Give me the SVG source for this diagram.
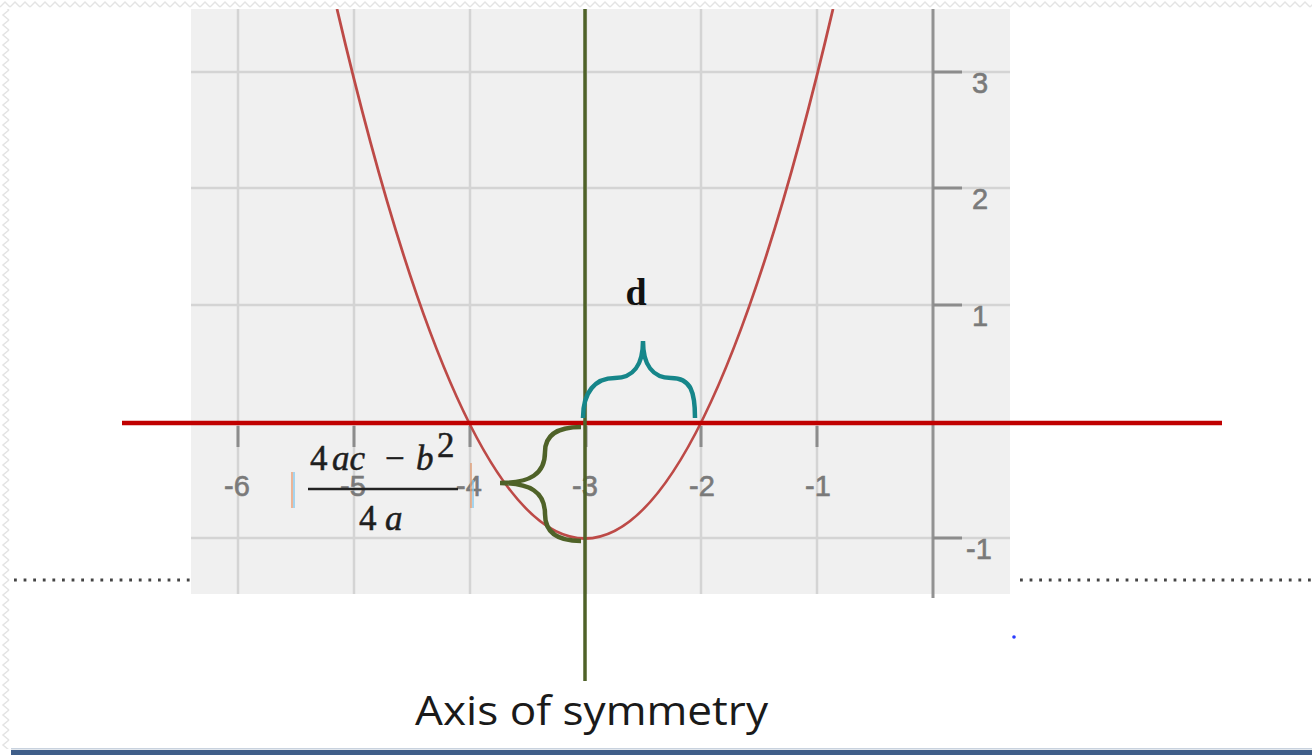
<svg xmlns="http://www.w3.org/2000/svg" width="1312" height="755" viewBox="0 0 1312 755">
<defs>
<pattern id="zzTop" x="0" y="0" width="10" height="9" patternUnits="userSpaceOnUse">
<path d="M0,7 L5,2 L10,7" fill="none" stroke="#e4e4e4" stroke-width="1.5"/>
</pattern>
<pattern id="zzLeft" x="0" y="0" width="11" height="10" patternUnits="userSpaceOnUse">
<path d="M9,0 L3,5 L9,10" fill="none" stroke="#e4e4e4" stroke-width="1.5"/>
</pattern>
<clipPath id="plotClip"><rect x="191" y="9" width="819" height="585"/></clipPath>
</defs>
<style>
.grid{stroke:#d4d4d4;stroke-width:2.5;fill:none}
.axis{stroke:#929292;stroke-width:3;fill:none}
.tick{stroke:#8c8c8c;stroke-width:3;fill:none}
.lbl{font-family:"Liberation Sans",Arial,sans-serif;font-size:29px;fill:#7a7a7a;stroke:#7a7a7a;stroke-width:0.6}
.fx{font-family:"Liberation Serif","Times New Roman",serif;font-size:35px;fill:#1e1e1e;stroke:#1e1e1e;stroke-width:0.5}
.it{font-style:italic}
.dots{stroke:#444;stroke-width:2.8;stroke-dasharray:2.8 6.8;fill:none}
</style>
<rect width="1312" height="755" fill="#ffffff"/>
<rect x="0" y="0" width="1312" height="9" fill="url(#zzTop)"/>
<rect x="0" y="9" width="11" height="740" fill="url(#zzLeft)"/>

<g id="plot">
<rect x="191" y="9" width="819" height="585" fill="#f0f0f0"/>
<g id="grid">
<line class="grid" x1="238" y1="9" x2="238" y2="594"/>
<line class="grid" x1="354" y1="9" x2="354" y2="594"/>
<line class="grid" x1="470" y1="9" x2="470" y2="594"/>
<line class="grid" x1="586" y1="9" x2="586" y2="594"/>
<line class="grid" x1="701" y1="9" x2="701" y2="594"/>
<line class="grid" x1="817" y1="9" x2="817" y2="594"/>
<line class="grid" x1="191" y1="72" x2="1010" y2="72"/>
<line class="grid" x1="191" y1="188" x2="1010" y2="188"/>
<line class="grid" x1="191" y1="305" x2="1010" y2="305"/>
<line class="grid" x1="191" y1="538" x2="1010" y2="538"/>
</g>
<line class="axis" x1="933" y1="9" x2="933" y2="598"/>
<g id="ticks">
<line class="tick" x1="238" y1="426" x2="238" y2="447"/>
<line class="tick" x1="354" y1="426" x2="354" y2="447"/>
<line class="tick" x1="470" y1="426" x2="470" y2="447"/>
<line class="tick" x1="586" y1="426" x2="586" y2="447"/>
<line class="tick" x1="701" y1="426" x2="701" y2="447"/>
<line class="tick" x1="817" y1="426" x2="817" y2="447"/>
<line class="tick" x1="933" y1="72" x2="962" y2="72"/>
<line class="tick" x1="933" y1="188" x2="962" y2="188"/>
<line class="tick" x1="933" y1="305" x2="962" y2="305"/>
<line class="tick" x1="933" y1="538" x2="962" y2="538"/>
</g>
<g id="labels">
<text class="lbl" x="237" y="496" text-anchor="middle">-6</text>
<text class="lbl" x="353" y="496" text-anchor="middle">-5</text>
<text class="lbl" x="469" y="496" text-anchor="middle">-4</text>
<text class="lbl" x="585" y="496" text-anchor="middle">-3</text>
<text class="lbl" x="702" y="496" text-anchor="middle">-2</text>
<text class="lbl" x="818" y="496" text-anchor="middle">-1</text>
<text class="lbl" x="972" y="93">3</text>
<text class="lbl" x="972" y="209">2</text>
<text class="lbl" x="972" y="326">1</text>
<text class="lbl" x="966" y="559">-1</text>
</g>
<path id="parabola" clip-path="url(#plotClip)" d="M337,9 Q585,1068 833,9" fill="none" stroke="#bd4a47" stroke-width="2.8"/>
</g>

<g id="connectors">
<line id="x-line" x1="122" y1="423" x2="1222" y2="423" stroke="#c00000" stroke-width="4.5"/>
<line id="axis-of-symmetry" x1="585" y1="9" x2="585" y2="681" stroke="#4f6228" stroke-width="3.5"/>
<path id="brace-d" d="M583,418 C583,392 595,378 615,378 C633,378 643,365 643,341 C643,365 653,378 671,378 C691,378 695,392 695,418" fill="none" stroke="#16868a" stroke-width="4.5"/>
<path id="brace-k" d="M581,427 C560,427 545,433 545,452 C545,474 530,483 500,483 C530,483 545,492 545,514 C545,534 560,541 581,541" fill="none" stroke="#4f6228" stroke-width="4.5"/>
<line class="dots" x1="14" y1="580" x2="190" y2="580"/>
<line class="dots" x1="1020" y1="580" x2="1312" y2="580"/>
</g>

<g id="label-d">
<text x="636" y="305" text-anchor="middle" font-family="Liberation Serif,'Times New Roman',serif" font-weight="bold" font-size="38" fill="#111">d</text>
</g>

<g id="formula">
<line x1="292" y1="472" x2="292" y2="508" stroke="#eba27a" stroke-width="1.5"/>
<line x1="294" y1="472" x2="294" y2="508" stroke="#8ccbee" stroke-width="1.5"/>
<line x1="471" y1="463" x2="471" y2="508" stroke="#e0a07a" stroke-width="1.5"/>
<line x1="473" y1="480" x2="473" y2="508" stroke="#8ccbee" stroke-width="1.5"/>
<text class="fx" x="310" y="470">4</text>
<text class="fx it" x="332" y="470">ac</text>
<text class="fx" x="385" y="470">−</text>
<text class="fx it" x="416" y="470">b</text>
<text class="fx" x="437" y="457" font-size="21">2</text>
<line x1="308" y1="489" x2="458" y2="489" stroke="#222" stroke-width="2.5"/>
<text class="fx" x="359" y="530">4</text>
<text class="fx it" x="385" y="530">a</text>
</g>

<circle cx="1014" cy="637" r="1.8" fill="#2a3cff"/>

<g id="caption">
<text x="415" y="725" font-family="'Open Sans','Liberation Sans',sans-serif" font-size="40" fill="#1a1a1a" textLength="353" lengthAdjust="spacingAndGlyphs">Axis of symmetry</text>
</g>

<rect x="11" y="748" width="1301" height="1.5" fill="#c8d2de"/>
<rect x="11" y="750" width="1301" height="5" fill="#3f5e89"/>
</svg>
